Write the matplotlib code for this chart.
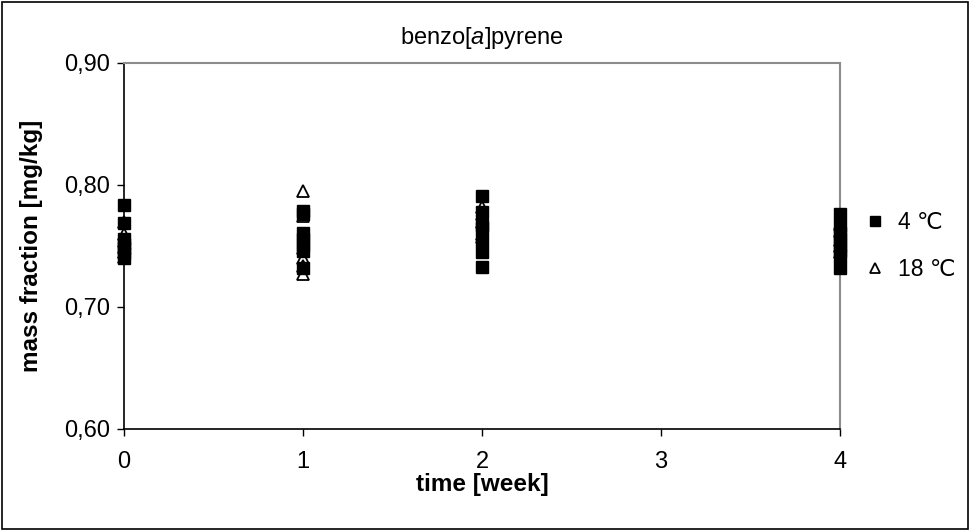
import matplotlib
matplotlib.use("Agg")
import matplotlib.pyplot as plt
from matplotlib.ticker import FuncFormatter, FixedLocator
from matplotlib.lines import Line2D

plt.rcParams['font.family'] = ['Liberation Sans', 'DejaVu Sans']
plt.rcParams['mathtext.fontset'] = 'custom'
plt.rcParams['mathtext.it'] = 'Liberation Sans:italic'
plt.rcParams['mathtext.rm'] = 'Liberation Sans'

# Data: time [week] and mass fraction [mg/kg]
weeks = [0, 1, 2, 4]
sq_vals = {
    0: [0.784, 0.769, 0.756, 0.752, 0.748, 0.744, 0.740],
    1: [0.779, 0.776, 0.761, 0.756, 0.751, 0.746, 0.732],
    2: [0.791, 0.778, 0.767, 0.765, 0.755, 0.745, 0.733],
    4: [0.776, 0.766, 0.761, 0.756, 0.751, 0.746, 0.742, 0.732],
}
tri_vals = {
    0: [0.770, 0.760, 0.754, 0.749, 0.745, 0.741],
    1: [0.795, 0.775, 0.748, 0.740, 0.734, 0.727],
    2: [0.782, 0.776, 0.770, 0.760, 0.757],
    4: [0.768, 0.762, 0.755, 0.750, 0.745],
}
series_labels = ['4 ℃', '18 ℃']
xticks = [0, 1, 2, 3, 4]
yticks = [0.60, 0.70, 0.80, 0.90]

fig = plt.figure(figsize=(9.71, 5.31), dpi=100)
ax = fig.add_axes([124/971, 1-429/531, (840-124)/971, (429-63)/531])

tx = [w for w in weeks for _ in tri_vals[w]]
ty = [v for w in weeks for v in tri_vals[w]]
sx = [w for w in weeks for _ in sq_vals[w]]
sy = [v for w in weeks for v in sq_vals[w]]

ax.plot(tx, ty, linestyle='none', marker='^', markersize=8.5, markerfacecolor='white',
        markeredgecolor='black', markeredgewidth=1.3, zorder=3, clip_on=False)
ax.plot(sx, sy, linestyle='none', marker='s', markersize=8.0, markerfacecolor='black',
        markeredgecolor='black', zorder=4, clip_on=False)

ax.set_xlim(0, 4)
ax.set_ylim(0.60, 0.90)
ax.xaxis.set_major_locator(FixedLocator(xticks))
ax.yaxis.set_major_locator(FixedLocator(yticks))
ax.yaxis.set_major_formatter(FuncFormatter(lambda v, p: f"{v:.2f}".replace('.', ',')))
ax.tick_params(axis='both', direction='out', length=5, width=1, labelsize=17, color='black')
ax.tick_params(axis='x', pad=11)
ax.tick_params(axis='y', pad=5)

for s in ['left', 'bottom']:
    ax.spines[s].set_color('black')
    ax.spines[s].set_linewidth(1.2)
for s in ['top', 'right']:
    ax.spines[s].set_color('#8c8c8c')
    ax.spines[s].set_linewidth(1.5)

ax.set_xlabel('time [week]', fontsize=17.5, fontweight='bold', labelpad=0)
ax.set_ylabel('mass fraction [mg/kg]', fontsize=17.5, fontweight='bold', labelpad=15)
ax.set_title(r'benzo[$\mathit{a}$]pyrene', fontsize=17, pad=14)

handles = [
    Line2D([], [], linestyle='none', marker='s', markersize=7.5, markerfacecolor='black', markeredgecolor='black'),
    Line2D([], [], linestyle='none', marker='^', markersize=7.5, markerfacecolor='white', markeredgecolor='black', markeredgewidth=1.3),
]
fig.legend(handles, series_labels, loc='center left', bbox_to_anchor=(845/971, 1-246/531),
           frameon=False, fontsize=16.5, handlelength=0.8, handletextpad=0.6, labelspacing=1.05)

# outer chart border
fig.patches.append(plt.Rectangle((2/971, 2/531), 966/971, 527/531, transform=fig.transFigure,
                                 fill=False, edgecolor='black', linewidth=1.2))

fig.savefig('out.png', dpi=100)
